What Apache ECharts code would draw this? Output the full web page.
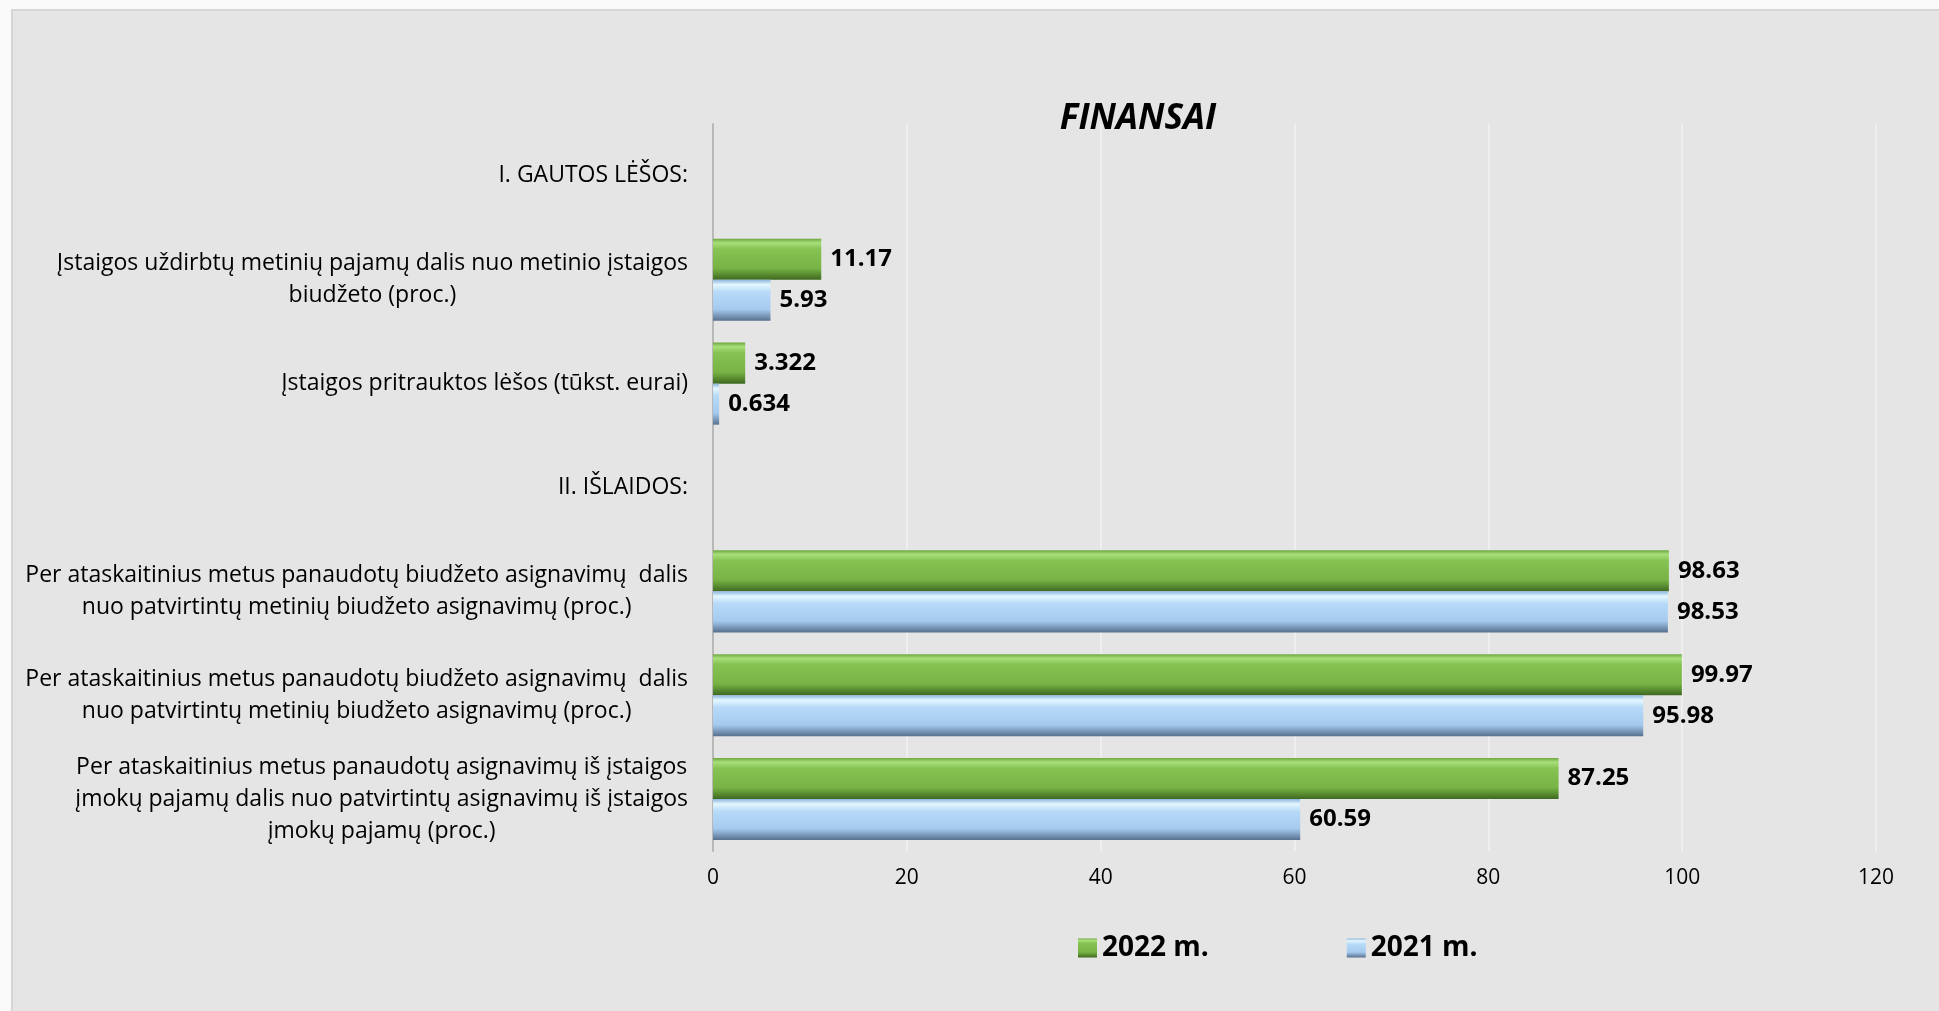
<!DOCTYPE html>
<html>
<head>
<meta charset="utf-8">
<script src="https://cdn.jsdelivr.net/npm/echarts@6/dist/echarts.min.js"></script>
<style>
    html, body { margin: 0; padding: 0; background: #fafafa; }
    .panel {
        position: absolute; left: 11px; top: 9px; right: 0; bottom: 0;
        background: #e5e5e5; border-left: 2px solid #d6d6d6; border-top: 2px solid #d6d6d6;
    }
    #chart { position: absolute; left: 0; top: 0; width: 1939px; height: 1011px; }
</style>
</head>
<body>
<div class="panel"></div>
<div id="chart"></div>
<script>
// categories, top to bottom
const categories = [
    "I. GAUTOS LĖŠOS:",
    "Įstaigos uždirbtų metinių pajamų dalis nuo metinio įstaigos\nbiudžeto (proc.)",
    "Įstaigos pritrauktos lėšos (tūkst. eurai)",
    "II. IŠLAIDOS:",
    "Per ataskaitinius metus panaudotų biudžeto asignavimų  dalis\nnuo patvirtintų metinių biudžeto asignavimų (proc.)",
    "Per ataskaitinius metus panaudotų biudžeto asignavimų  dalis\nnuo patvirtintų metinių biudžeto asignavimų (proc.)",
    "Per ataskaitinius metus panaudotų asignavimų iš įstaigos\nįmokų pajamų dalis nuo patvirtintų asignavimų iš įstaigos\nįmokų pajamų (proc.)"
];
const values2022 = [null, 11.17, 3.322, null, 98.63, 99.97, 87.25];
const values2021 = [null, 5.93, 0.634, null, 98.53, 95.98, 60.59];
const seriesNames = ["2022 m.", "2021 m."];
const xTicks = [0, 20, 40, 60, 80, 100, 120];

const greenFill = new echarts.graphic.LinearGradient(0, 0, 0, 1, [
    { offset: 0, color: "#6ea83e" },
    { offset: 0.1, color: "#a8df7a" },
    { offset: 0.25, color: "#85c353" },
    { offset: 0.72, color: "#77b345" },
    { offset: 0.86, color: "#5b8f32" },
    { offset: 1, color: "#3e6821" }
]);
const blueFill = new echarts.graphic.LinearGradient(0, 0, 0, 1, [
    { offset: 0, color: "#8db6de" },
    { offset: 0.12, color: "#e4f7ff" },
    { offset: 0.3, color: "#b6daf7" },
    { offset: 0.72, color: "#a5caee" },
    { offset: 0.86, color: "#7f9ec0" },
    { offset: 1, color: "#576f8e" }
]);

const chart = echarts.init(document.getElementById("chart"), null, { renderer: "canvas" });

const valueLabel = {
    show: true,
    position: "right",
    distance: 9,
    formatter: p => String(p.value),
    fontFamily: "Open Sans",
    fontWeight: "bold",
    fontSize: 24,
    color: "#000"
};

chart.setOption({
    backgroundColor: "transparent",
    animation: false,
    textStyle: { fontFamily: "Open Sans" },
    title: {
        text: "FINANSAI",
        left: 1133,
        top: 97,
        textAlign: "center",
        textStyle: {
            fontFamily: "Open Sans",
            fontStyle: "italic",
            fontWeight: "bold",
            fontSize: 35,
            color: "#000"
        }
    },
    legend: {
        data: seriesNames,
        left: 1073,
        top: 929,
        itemWidth: 19,
        itemHeight: 19,
        itemGap: 138,
        icon: "rect",
        textStyle: {
            fontFamily: "Open Sans",
            fontWeight: "bold",
            fontSize: 28,
            color: "#000"
        }
    },
    grid: { left: 713, right: 63, top: 124, bottom: 160, containLabel: false },
    xAxis: {
        type: "value",
        min: xTicks[0],
        max: xTicks[xTicks.length - 1],
        interval: 20,
        axisLine: { show: false },
        axisTick: { show: false },
        splitLine: { show: true, lineStyle: { color: "#f2f2f2", width: 1.5 } },
        axisLabel: {
            margin: 17,
            fontFamily: "Open Sans",
            fontSize: 21,
            color: "#000"
        }
    },
    yAxis: {
        type: "category",
        inverse: true,
        data: categories.map((c, i) => String(i)),
        axisLine: { show: true, lineStyle: { color: "#b8b8b8", width: 2 } },
        axisTick: { show: false },
        axisLabel: {
            margin: 25,
            align: "right",
            lineHeight: 32,
            formatter: v => categories[+v].split("\n").map(l => "{c|" + l + "}").join("\n"),
            rich: {
                c: {
                    align: "center",
                    fontFamily: "Open Sans",
                    fontSize: 23,
                    lineHeight: 32,
                    color: "#000"
                }
            }
        }
    },
    series: [
        {
            name: seriesNames[0],
            type: "bar",
            data: values2022,
            barGap: "0%",
            barCategoryGap: "21%",
            itemStyle: { color: greenFill },
            label: valueLabel
        },
        {
            name: seriesNames[1],
            type: "bar",
            data: values2021,
            barGap: "0%",
            barCategoryGap: "21%",
            itemStyle: { color: blueFill },
            label: valueLabel
        }
    ]
});
</script>
</body>
</html>
